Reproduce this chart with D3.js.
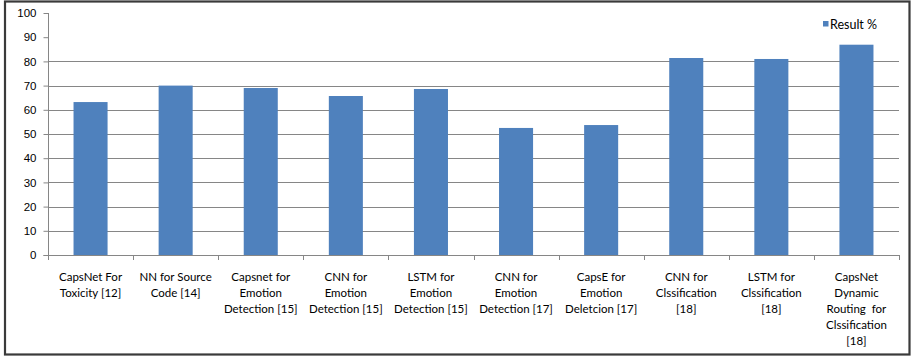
<!DOCTYPE html>
<html>
<head>
<meta charset="utf-8">
<script src="https://cdn.jsdelivr.net/npm/d3@7"></script>
<style>
  html, body { margin: 0; padding: 0; background: #fff; }
  svg { display: block; }
</style>
</head>
<body>
<svg id="chart" width="917" height="360"></svg>
<script>
const categories = [
  "CapsNet For\nToxicity [12]",
  "NN for Source\nCode [14]",
  "Capsnet for\nEmotion\nDetection [15]",
  "CNN for\nEmotion\nDetection [15]",
  "LSTM for\nEmotion\nDetection [15]",
  "CNN for\nEmotion\nDetection [17]",
  "CapsE for\nEmotion\nDeletcion [17]",
  "CNN for\nClssification\n[18]",
  "LSTM for\nClssification\n[18]",
  "CapsNet\nDynamic\nRouting  for\nClssification\n[18]"
];
const resultValues = [63.2, 70.0, 69.0, 65.7, 68.6, 52.5, 53.7, 81.4, 81.0, 86.9];
const yTicks = [0, 10, 20, 30, 40, 50, 60, 70, 80, 90, 100];
const gridTicks = [10, 20, 30, 40, 50, 60, 70, 80];
const seriesName = "Result %";

const svg = d3.select("#chart");
const plotLeft = 48, plotRight = 899, plotTop = 13, plotBottom = 255;
const axisColor = "#868686";
const barColor = "#4F81BD";

// outer frame
svg.append("rect")
  .attr("x", 5).attr("y", 1.5).attr("width", 904.5).attr("height", 353)
  .attr("fill", "#fff").attr("stroke", "#3a3a3a").attr("stroke-width", 2.2);

const x = d3.scaleBand().domain(d3.range(categories.length)).range([plotLeft, plotRight]).padding(0);
const y = d3.scaleLinear().domain([0, 100]).range([plotBottom, plotTop]);

// gridlines
svg.append("g").selectAll("line").data(gridTicks).join("line")
  .attr("x1", plotLeft).attr("x2", plotRight)
  .attr("y1", d => Math.round(y(d)) + 0.5).attr("y2", d => Math.round(y(d)) + 0.5)
  .attr("stroke", axisColor).attr("stroke-width", 1);

// bars
const bw = x.bandwidth() * 0.4;
svg.append("g").selectAll("rect").data(resultValues).join("rect")
  .attr("x", (d, i) => x(i) + (x.bandwidth() - bw) / 2)
  .attr("y", d => y(d))
  .attr("width", bw)
  .attr("height", d => y(0) - y(d))
  .attr("fill", barColor);

// y axis
const yAxis = d3.axisLeft(y).tickValues(yTicks).tickSize(5).tickPadding(7).tickFormat(d3.format("d"));
const gy = svg.append("g").attr("transform", `translate(${plotLeft + 0.5},0)`).call(yAxis);
gy.select(".domain").attr("stroke", axisColor).attr("d", `M-5,${plotBottom + 0.5}H0V${plotTop}`);
gy.selectAll(".tick line").attr("stroke", axisColor);
gy.selectAll(".tick text").attr("fill", "#000").style("font-family", "Arial, 'Liberation Sans', sans-serif").style("font-size", "11.5px");

// x axis
const xEdges = d3.range(categories.length + 1).map(i => plotLeft + i * x.step());
const gx = svg.append("g");
gx.append("line").attr("x1", plotLeft).attr("x2", plotRight)
  .attr("y1", plotBottom + 0.5).attr("y2", plotBottom + 0.5).attr("stroke", axisColor);
gx.selectAll("line.t").data(xEdges).join("line").attr("class", "t")
  .attr("x1", d => Math.round(d) + 0.5).attr("x2", d => Math.round(d) + 0.5)
  .attr("y1", plotBottom).attr("y2", plotBottom + 5).attr("stroke", axisColor);

// x labels
const lbl = svg.append("g").selectAll("text").data(categories).join("text")
  .attr("x", (d, i) => x(i) + x.bandwidth() / 2)
  .attr("y", 281)
  .attr("text-anchor", "middle")
  .style("font-family", "Lato, 'Open Sans', sans-serif")
  .style("font-size", "11.5px")
  .attr("fill", "#000");
lbl.each(function(d) {
  const t = d3.select(this);
  d.split("\n").forEach((line, k) => {
    t.append("tspan").attr("x", t.attr("x")).attr("y", 281 + k * 16).attr("xml:space", "preserve").text(line);
  });
});

// legend
svg.append("rect").attr("x", 823).attr("y", 21).attr("width", 5.5).attr("height", 5.5).attr("fill", barColor);
svg.append("text").attr("x", 830).attr("y", 28.5)
  .style("font-family", "Lato, 'Open Sans', sans-serif").style("font-size", "12.5px")
  .attr("fill", "#000").text(seriesName);
</script>
</body>
</html>
